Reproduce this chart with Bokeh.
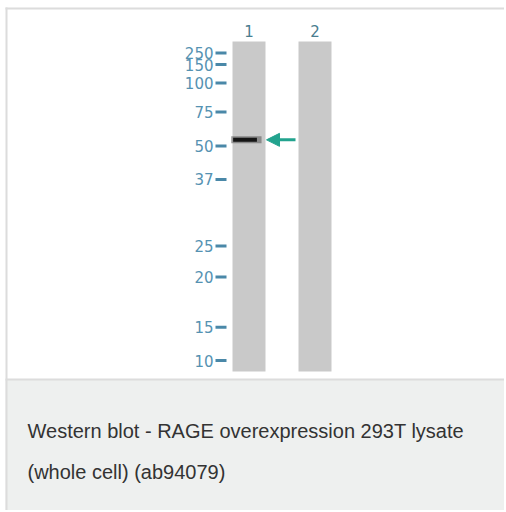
from bokeh.plotting import figure
from bokeh.models import Range1d, Label, Arrow, NormalHead
from bokeh.core.properties import value
from bokeh.embed import file_html
from bokeh.resources import INLINE

# ---- data read from the blot ----
lanes = ["1", "2"]
lane_pos = [1, 2]
marker_kda = ["250", "150", "100", "75", "50", "37", "25", "20", "15", "10"]
# relative migration down the lane (0 = well, 1 = bottom of lane)
marker_migration = [0.035, 0.070, 0.126, 0.214, 0.317, 0.418, 0.620, 0.714, 0.866, 0.967]
band_lane = [1]
band_migration = [0.298]
caption_lines = ["Western blot - RAGE overexpression 293T lysate",
                 "(whole cell) (ab94079)"]

# ---- layout (pixels) ----
W, H = 504, 510
LANE1_PX, PITCH, LANE_TOP, LANE_LEN = 248.5, 66.0, 41.0, 330.0


def px_x(px):
    return 1 + (px - LANE1_PX) / PITCH


def px_y(py):
    return (py - LANE_TOP) / LANE_LEN


x_range = Range1d(px_x(0), px_x(W))
y_range = Range1d(px_y(H), px_y(0))

p = figure(width=W, height=H, x_range=x_range, y_range=y_range,
           x_axis_type=None, y_axis_type=None,
           output_backend="svg", toolbar_location=None, min_border=0,
           background_fill_color="white", border_fill_color="white",
           outline_line_color=None)

# caption panel and frame lines
border = "#dcdcdc"
p.quad(left=px_x(5), right=x_range.end, top=px_y(379), bottom=y_range.start,
       fill_color="#eef0ef", line_color=None)
p.quad(left=px_x(5), right=x_range.end, top=px_y(378), bottom=px_y(380),
       fill_color=border, line_color=None)
p.quad(left=px_x(5), right=x_range.end, top=px_y(7), bottom=px_y(9),
       fill_color=border, line_color=None)
p.quad(left=px_x(5), right=px_x(7), top=px_y(7), bottom=y_range.start,
       fill_color=border, line_color=None)

# lanes
lane_half = 16.5 / PITCH
p.quad(left=[x - lane_half for x in lane_pos], right=[x + lane_half for x in lane_pos],
       top=0, bottom=1, fill_color="#c9c9c9", line_color=None)

# lane numbers
p.text(x=lane_pos, y=px_y(30), text=lanes, text_align="center", text_baseline="middle",
       text_font=value("DejaVu Sans"), text_font_size="15px", text_color="#4a7d8f")

# marker ladder
mcol = "#4a88a8"
p.segment(x0=px_x(215), x1=px_x(226), y0=marker_migration, y1=marker_migration,
          line_width=3, line_color=mcol)
p.text(x=px_x(213), y=marker_migration, text=marker_kda, text_align="right",
       text_baseline="middle", text_font=value("DejaVu Sans"), text_font_size="15px",
       text_color="#5592b2")

# band in lane 1
p.rect(x=[b - 0.04 for b in band_lane], y=band_migration, width=0.46, height=7,
       height_units="screen", fill_color="#4a4a4a", fill_alpha=0.5, line_color=None)
p.rect(x=[b - 0.06 for b in band_lane], y=band_migration, width=0.36, height=4,
       height_units="screen", fill_color="#151515", line_color=None)

# arrow pointing to band
teal = "#22a38e"
p.add_layout(Arrow(end=NormalHead(size=13, fill_color=teal, line_color=teal),
                   x_start=px_x(295), y_start=band_migration[0],
                   x_end=px_x(266), y_end=band_migration[0],
                   line_color=teal, line_width=3))

# caption text
for line, base in zip(caption_lines, [430, 471]):
    p.add_layout(Label(x=px_x(27), y=px_y(base), text=line, text_font="Liberation Sans",
                       text_font_size="20px", text_color="#333333",
                       text_baseline="alphabetic"))

open("out.html", "w").write(file_html(p, INLINE))
